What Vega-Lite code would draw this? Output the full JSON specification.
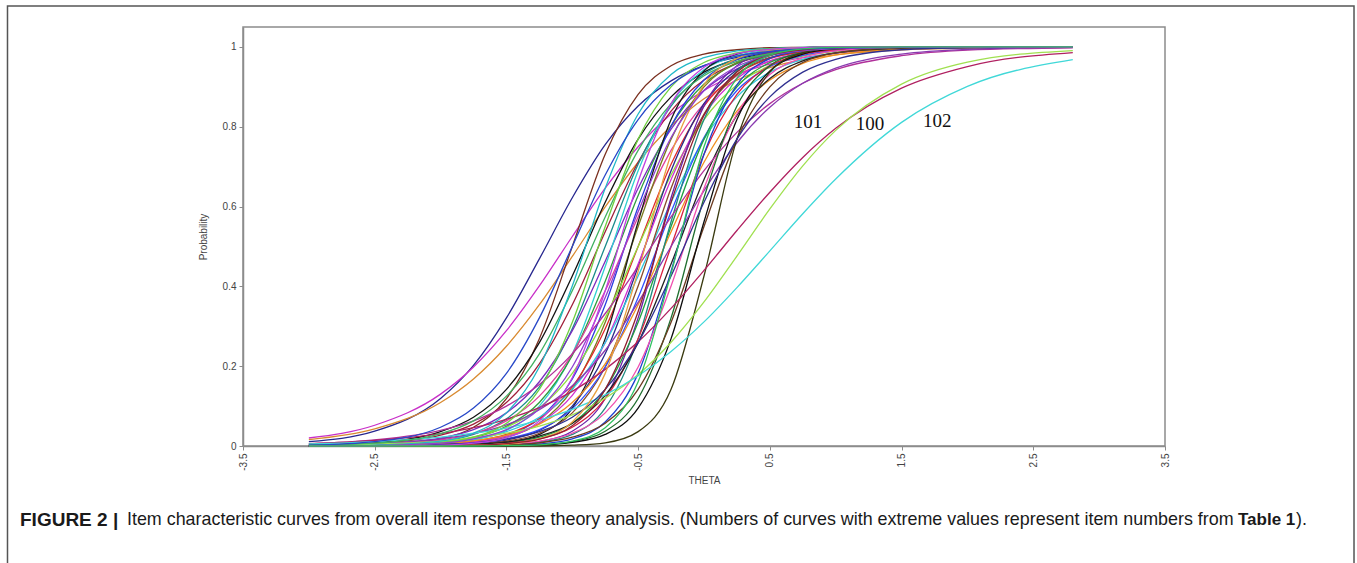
{
"$schema":"https://vega.github.io/schema/vega-lite/v6.json",
"width":922,"height":419,
"autosize":{"type":"none"},
"padding":{"left":243,"top":27,"right":192,"bottom":117},
"background":"white",
"config":{"view":{"stroke":"#8c8c8c","strokeWidth":1.5},"font":"Liberation Sans"},
"layer":[
{"data":{"values":[{}]},"mark":{"type":"rect","fill":null,"stroke":"#555555","strokeWidth":1.5,"clip":false},
 "encoding":{"x":{"datum":-5.288,"type":"quantitative"},"x2":{"datum":4.935},"y":{"datum":1.1026,"type":"quantitative"},"y2":{"datum":-0.32}}},
{"data":{"values":[
{"item":1,"theta":-3,"p":0.011},{"item":1,"theta":-2.5,"p":0.037},{"item":1,"theta":-2,"p":0.119},{"item":1,"theta":-1.75,"p":0.202},{"item":1,"theta":-1.5,"p":0.321},{"item":1,"theta":-1.25,"p":0.469},{"item":1,"theta":-1,"p":0.622},{"item":1,"theta":-0.75,"p":0.755},{"item":1,"theta":-0.5,"p":0.852},{"item":1,"theta":-0.25,"p":0.915},{"item":1,"theta":0,"p":0.953},{"item":1,"theta":0.25,"p":0.974},{"item":1,"theta":0.5,"p":0.986},{"item":1,"theta":0.75,"p":0.992},{"item":1,"theta":1,"p":0.996},{"item":1,"theta":1.5,"p":0.999},{"item":1,"theta":2,"p":1},{"item":1,"theta":2.8,"p":1},
{"item":2,"theta":-3,"p":0.020},{"item":2,"theta":-2.5,"p":0.052},{"item":2,"theta":-2,"p":0.130},{"item":2,"theta":-1.75,"p":0.198},{"item":2,"theta":-1.5,"p":0.289},{"item":2,"theta":-1.25,"p":0.401},{"item":2,"theta":-1,"p":0.525},{"item":2,"theta":-0.75,"p":0.646},{"item":2,"theta":-0.5,"p":0.750},{"item":2,"theta":-0.25,"p":0.832},{"item":2,"theta":0,"p":0.891},{"item":2,"theta":0.25,"p":0.931},{"item":2,"theta":0.5,"p":0.957},{"item":2,"theta":0.75,"p":0.973},{"item":2,"theta":1,"p":0.984},{"item":2,"theta":1.5,"p":0.994},{"item":2,"theta":2,"p":0.998},{"item":2,"theta":2.8,"p":1},
{"item":3,"theta":-3,"p":0.016},{"item":3,"theta":-2.5,"p":0.043},{"item":3,"theta":-2,"p":0.109},{"item":3,"theta":-1.75,"p":0.168},{"item":3,"theta":-1.5,"p":0.250},{"item":3,"theta":-1.25,"p":0.354},{"item":3,"theta":-1,"p":0.475},{"item":3,"theta":-0.75,"p":0.599},{"item":3,"theta":-0.5,"p":0.711},{"item":3,"theta":-0.25,"p":0.802},{"item":3,"theta":0,"p":0.870},{"item":3,"theta":0.25,"p":0.917},{"item":3,"theta":0.5,"p":0.948},{"item":3,"theta":0.75,"p":0.968},{"item":3,"theta":1,"p":0.980},{"item":3,"theta":1.5,"p":0.993},{"item":3,"theta":2,"p":0.997},{"item":3,"theta":2.8,"p":0.999},
{"item":4,"theta":-3,"p":0},{"item":4,"theta":-2.5,"p":0.002},{"item":4,"theta":-2,"p":0.018},{"item":4,"theta":-1.75,"p":0.047},{"item":4,"theta":-1.5,"p":0.119},{"item":4,"theta":-1.25,"p":0.269},{"item":4,"theta":-1,"p":0.5},{"item":4,"theta":-0.75,"p":0.731},{"item":4,"theta":-0.5,"p":0.881},{"item":4,"theta":-0.25,"p":0.953},{"item":4,"theta":0,"p":0.982},{"item":4,"theta":0.25,"p":0.993},{"item":4,"theta":0.5,"p":0.998},{"item":4,"theta":0.75,"p":0.999},{"item":4,"theta":1,"p":1},{"item":4,"theta":1.5,"p":1},{"item":4,"theta":2,"p":1},{"item":4,"theta":2.8,"p":1},
{"item":5,"theta":-3,"p":0.002},{"item":5,"theta":-2.5,"p":0.008},{"item":5,"theta":-2,"p":0.036},{"item":5,"theta":-1.75,"p":0.072},{"item":5,"theta":-1.5,"p":0.142},{"item":5,"theta":-1.25,"p":0.259},{"item":5,"theta":-1,"p":0.426},{"item":5,"theta":-0.75,"p":0.611},{"item":5,"theta":-0.5,"p":0.769},{"item":5,"theta":-0.25,"p":0.875},{"item":5,"theta":0,"p":0.937},{"item":5,"theta":0.25,"p":0.969},{"item":5,"theta":0.5,"p":0.985},{"item":5,"theta":0.75,"p":0.993},{"item":5,"theta":1,"p":0.997},{"item":5,"theta":1.5,"p":0.999},{"item":5,"theta":2,"p":1},{"item":5,"theta":2.8,"p":1},
{"item":6,"theta":-3,"p":0.001},{"item":6,"theta":-2.5,"p":0.006},{"item":6,"theta":-2,"p":0.027},{"item":6,"theta":-1.75,"p":0.055},{"item":6,"theta":-1.5,"p":0.109},{"item":6,"theta":-1.25,"p":0.206},{"item":6,"theta":-1,"p":0.354},{"item":6,"theta":-0.75,"p":0.537},{"item":6,"theta":-0.5,"p":0.711},{"item":6,"theta":-0.25,"p":0.839},{"item":6,"theta":0,"p":0.917},{"item":6,"theta":0.25,"p":0.959},{"item":6,"theta":0.5,"p":0.980},{"item":6,"theta":0.75,"p":0.991},{"item":6,"theta":1,"p":0.995},{"item":6,"theta":1.5,"p":0.999},{"item":6,"theta":2,"p":1},{"item":6,"theta":2.8,"p":1},
{"item":7,"theta":-3,"p":0},{"item":7,"theta":-2.5,"p":0.002},{"item":7,"theta":-2,"p":0.012},{"item":7,"theta":-1.75,"p":0.029},{"item":7,"theta":-1.5,"p":0.068},{"item":7,"theta":-1.25,"p":0.148},{"item":7,"theta":-1,"p":0.294},{"item":7,"theta":-0.75,"p":0.5},{"item":7,"theta":-0.5,"p":0.706},{"item":7,"theta":-0.25,"p":0.852},{"item":7,"theta":0,"p":0.932},{"item":7,"theta":0.25,"p":0.971},{"item":7,"theta":0.5,"p":0.988},{"item":7,"theta":0.75,"p":0.995},{"item":7,"theta":1,"p":0.998},{"item":7,"theta":1.5,"p":1},{"item":7,"theta":2,"p":1},{"item":7,"theta":2.8,"p":1},
{"item":8,"theta":-3,"p":0.001},{"item":8,"theta":-2.5,"p":0.005},{"item":8,"theta":-2,"p":0.020},{"item":8,"theta":-1.75,"p":0.041},{"item":8,"theta":-1.5,"p":0.083},{"item":8,"theta":-1.25,"p":0.161},{"item":8,"theta":-1,"p":0.289},{"item":8,"theta":-0.75,"p":0.463},{"item":8,"theta":-0.5,"p":0.646},{"item":8,"theta":-0.25,"p":0.794},{"item":8,"theta":0,"p":0.891},{"item":8,"theta":0.25,"p":0.945},{"item":8,"theta":0.5,"p":0.973},{"item":8,"theta":0.75,"p":0.987},{"item":8,"theta":1,"p":0.994},{"item":8,"theta":1.5,"p":0.999},{"item":8,"theta":2,"p":1},{"item":8,"theta":2.8,"p":1},
{"item":9,"theta":-3,"p":0},{"item":9,"theta":-2.5,"p":0.001},{"item":9,"theta":-2,"p":0.005},{"item":9,"theta":-1.75,"p":0.015},{"item":9,"theta":-1.5,"p":0.039},{"item":9,"theta":-1.25,"p":0.100},{"item":9,"theta":-1,"p":0.231},{"item":9,"theta":-0.75,"p":0.450},{"item":9,"theta":-0.5,"p":0.690},{"item":9,"theta":-0.25,"p":0.858},{"item":9,"theta":0,"p":0.943},{"item":9,"theta":0.25,"p":0.978},{"item":9,"theta":0.5,"p":0.992},{"item":9,"theta":0.75,"p":0.997},{"item":9,"theta":1,"p":0.999},{"item":9,"theta":1.5,"p":1},{"item":9,"theta":2,"p":1},{"item":9,"theta":2.8,"p":1},
{"item":10,"theta":-3,"p":0},{"item":10,"theta":-2.5,"p":0.002},{"item":10,"theta":-2,"p":0.009},{"item":10,"theta":-1.75,"p":0.021},{"item":10,"theta":-1.5,"p":0.049},{"item":10,"theta":-1.25,"p":0.109},{"item":10,"theta":-1,"p":0.227},{"item":10,"theta":-0.75,"p":0.413},{"item":10,"theta":-0.5,"p":0.628},{"item":10,"theta":-0.25,"p":0.802},{"item":10,"theta":0,"p":0.907},{"item":10,"theta":0.25,"p":0.959},{"item":10,"theta":0.5,"p":0.982},{"item":10,"theta":0.75,"p":0.993},{"item":10,"theta":1,"p":0.997},{"item":10,"theta":1.5,"p":1},{"item":10,"theta":2,"p":1},{"item":10,"theta":2.8,"p":1},
{"item":11,"theta":-3,"p":0},{"item":11,"theta":-2.5,"p":0},{"item":11,"theta":-2,"p":0.004},{"item":11,"theta":-1.75,"p":0.010},{"item":11,"theta":-1.5,"p":0.027},{"item":11,"theta":-1.25,"p":0.069},{"item":11,"theta":-1,"p":0.168},{"item":11,"theta":-0.75,"p":0.354},{"item":11,"theta":-0.5,"p":0.599},{"item":11,"theta":-0.25,"p":0.802},{"item":11,"theta":0,"p":0.917},{"item":11,"theta":0.25,"p":0.968},{"item":11,"theta":0.5,"p":0.988},{"item":11,"theta":0.75,"p":0.995},{"item":11,"theta":1,"p":0.998},{"item":11,"theta":1.5,"p":1},{"item":11,"theta":2,"p":1},{"item":11,"theta":2.8,"p":1},
{"item":12,"theta":-3,"p":0.001},{"item":12,"theta":-2.5,"p":0.003},{"item":12,"theta":-2,"p":0.015},{"item":12,"theta":-1.75,"p":0.031},{"item":12,"theta":-1.5,"p":0.063},{"item":12,"theta":-1.25,"p":0.125},{"item":12,"theta":-1,"p":0.231},{"item":12,"theta":-0.75,"p":0.389},{"item":12,"theta":-0.5,"p":0.574},{"item":12,"theta":-0.25,"p":0.741},{"item":12,"theta":0,"p":0.858},{"item":12,"theta":0.25,"p":0.928},{"item":12,"theta":0.5,"p":0.964},{"item":12,"theta":0.75,"p":0.983},{"item":12,"theta":1,"p":0.992},{"item":12,"theta":1.5,"p":0.998},{"item":12,"theta":2,"p":1},{"item":12,"theta":2.8,"p":1},
{"item":13,"theta":-3,"p":0},{"item":13,"theta":-2.5,"p":0},{"item":13,"theta":-2,"p":0.003},{"item":13,"theta":-1.75,"p":0.008},{"item":13,"theta":-1.5,"p":0.022},{"item":13,"theta":-1.25,"p":0.057},{"item":13,"theta":-1,"p":0.142},{"item":13,"theta":-0.75,"p":0.310},{"item":13,"theta":-0.5,"p":0.550},{"item":13,"theta":-0.25,"p":0.769},{"item":13,"theta":0,"p":0.900},{"item":13,"theta":0.25,"p":0.961},{"item":13,"theta":0.5,"p":0.985},{"item":13,"theta":0.75,"p":0.995},{"item":13,"theta":1,"p":0.998},{"item":13,"theta":1.5,"p":1},{"item":13,"theta":2,"p":1},{"item":13,"theta":2.8,"p":1},
{"item":14,"theta":-3,"p":0},{"item":14,"theta":-2.5,"p":0.001},{"item":14,"theta":-2,"p":0.005},{"item":14,"theta":-1.75,"p":0.012},{"item":14,"theta":-1.5,"p":0.029},{"item":14,"theta":-1.25,"p":0.068},{"item":14,"theta":-1,"p":0.148},{"item":14,"theta":-0.75,"p":0.294},{"item":14,"theta":-0.5,"p":0.5},{"item":14,"theta":-0.25,"p":0.706},{"item":14,"theta":0,"p":0.852},{"item":14,"theta":0.25,"p":0.932},{"item":14,"theta":0.5,"p":0.971},{"item":14,"theta":0.75,"p":0.988},{"item":14,"theta":1,"p":0.995},{"item":14,"theta":1.5,"p":0.999},{"item":14,"theta":2,"p":1},{"item":14,"theta":2.8,"p":1},
{"item":15,"theta":-3,"p":0},{"item":15,"theta":-2.5,"p":0},{"item":15,"theta":-2,"p":0},{"item":15,"theta":-1.75,"p":0.002},{"item":15,"theta":-1.5,"p":0.009},{"item":15,"theta":-1.25,"p":0.029},{"item":15,"theta":-1,"p":0.095},{"item":15,"theta":-0.75,"p":0.269},{"item":15,"theta":-0.5,"p":0.562},{"item":15,"theta":-0.25,"p":0.818},{"item":15,"theta":0,"p":0.940},{"item":15,"theta":0.25,"p":0.982},{"item":15,"theta":0.5,"p":0.995},{"item":15,"theta":0.75,"p":0.998},{"item":15,"theta":1,"p":1},{"item":15,"theta":1.5,"p":1},{"item":15,"theta":2,"p":1},{"item":15,"theta":2.8,"p":1},
{"item":16,"theta":-3,"p":0.001},{"item":16,"theta":-2.5,"p":0.002},{"item":16,"theta":-2,"p":0.011},{"item":16,"theta":-1.75,"p":0.023},{"item":16,"theta":-1.5,"p":0.047},{"item":16,"theta":-1.25,"p":0.095},{"item":16,"theta":-1,"p":0.182},{"item":16,"theta":-0.75,"p":0.321},{"item":16,"theta":-0.5,"p":0.5},{"item":16,"theta":-0.25,"p":0.679},{"item":16,"theta":0,"p":0.818},{"item":16,"theta":0.25,"p":0.905},{"item":16,"theta":0.5,"p":0.953},{"item":16,"theta":0.75,"p":0.977},{"item":16,"theta":1,"p":0.989},{"item":16,"theta":1.5,"p":0.998},{"item":16,"theta":2,"p":0.999},{"item":16,"theta":2.8,"p":1},
{"item":17,"theta":-3,"p":0},{"item":17,"theta":-2.5,"p":0},{"item":17,"theta":-2,"p":0.002},{"item":17,"theta":-1.75,"p":0.005},{"item":17,"theta":-1.5,"p":0.015},{"item":17,"theta":-1.25,"p":0.039},{"item":17,"theta":-1,"p":0.100},{"item":17,"theta":-0.75,"p":0.231},{"item":17,"theta":-0.5,"p":0.450},{"item":17,"theta":-0.25,"p":0.690},{"item":17,"theta":0,"p":0.858},{"item":17,"theta":0.25,"p":0.943},{"item":17,"theta":0.5,"p":0.978},{"item":17,"theta":0.75,"p":0.992},{"item":17,"theta":1,"p":0.997},{"item":17,"theta":1.5,"p":1},{"item":17,"theta":2,"p":1},{"item":17,"theta":2.8,"p":1},
{"item":18,"theta":-3,"p":0},{"item":18,"theta":-2.5,"p":0.001},{"item":18,"theta":-2,"p":0.004},{"item":18,"theta":-1.75,"p":0.010},{"item":18,"theta":-1.5,"p":0.025},{"item":18,"theta":-1.25,"p":0.057},{"item":18,"theta":-1,"p":0.127},{"item":18,"theta":-0.75,"p":0.259},{"item":18,"theta":-0.5,"p":0.456},{"item":18,"theta":-0.25,"p":0.668},{"item":18,"theta":0,"p":0.829},{"item":18,"theta":0.25,"p":0.921},{"item":18,"theta":0.5,"p":0.965},{"item":18,"theta":0.75,"p":0.985},{"item":18,"theta":1,"p":0.994},{"item":18,"theta":1.5,"p":0.999},{"item":18,"theta":2,"p":1},{"item":18,"theta":2.8,"p":1},
{"item":19,"theta":-3,"p":0},{"item":19,"theta":-2.5,"p":0.002},{"item":19,"theta":-2,"p":0.008},{"item":19,"theta":-1.75,"p":0.017},{"item":19,"theta":-1.5,"p":0.036},{"item":19,"theta":-1.25,"p":0.072},{"item":19,"theta":-1,"p":0.142},{"item":19,"theta":-0.75,"p":0.259},{"item":19,"theta":-0.5,"p":0.426},{"item":19,"theta":-0.25,"p":0.611},{"item":19,"theta":0,"p":0.769},{"item":19,"theta":0.25,"p":0.875},{"item":19,"theta":0.5,"p":0.937},{"item":19,"theta":0.75,"p":0.969},{"item":19,"theta":1,"p":0.985},{"item":19,"theta":1.5,"p":0.997},{"item":19,"theta":2,"p":0.999},{"item":19,"theta":2.8,"p":1},
{"item":20,"theta":-3,"p":0},{"item":20,"theta":-2.5,"p":0},{"item":20,"theta":-2,"p":0.002},{"item":20,"theta":-1.75,"p":0.005},{"item":20,"theta":-1.5,"p":0.012},{"item":20,"theta":-1.25,"p":0.032},{"item":20,"theta":-1,"p":0.083},{"item":20,"theta":-0.75,"p":0.198},{"item":20,"theta":-0.5,"p":0.401},{"item":20,"theta":-0.25,"p":0.646},{"item":20,"theta":0,"p":0.832},{"item":20,"theta":0.25,"p":0.931},{"item":20,"theta":0.5,"p":0.973},{"item":20,"theta":0.75,"p":0.990},{"item":20,"theta":1,"p":0.996},{"item":20,"theta":1.5,"p":1},{"item":20,"theta":2,"p":1},{"item":20,"theta":2.8,"p":1},
{"item":21,"theta":-3,"p":0},{"item":21,"theta":-2.5,"p":0.001},{"item":21,"theta":-2,"p":0.003},{"item":21,"theta":-1.75,"p":0.007},{"item":21,"theta":-1.5,"p":0.018},{"item":21,"theta":-1.25,"p":0.041},{"item":21,"theta":-1,"p":0.093},{"item":21,"theta":-0.75,"p":0.198},{"item":21,"theta":-0.5,"p":0.372},{"item":21,"theta":-0.25,"p":0.587},{"item":21,"theta":0,"p":0.773},{"item":21,"theta":0.25,"p":0.891},{"item":21,"theta":0.5,"p":0.951},{"item":21,"theta":0.75,"p":0.979},{"item":21,"theta":1,"p":0.991},{"item":21,"theta":1.5,"p":0.998},{"item":21,"theta":2,"p":1},{"item":21,"theta":2.8,"p":1},
{"item":22,"theta":-3,"p":0},{"item":22,"theta":-2.5,"p":0},{"item":22,"theta":-2,"p":0},{"item":22,"theta":-1.75,"p":0.001},{"item":22,"theta":-1.5,"p":0.003},{"item":22,"theta":-1.25,"p":0.011},{"item":22,"theta":-1,"p":0.037},{"item":22,"theta":-0.75,"p":0.119},{"item":22,"theta":-0.5,"p":0.321},{"item":22,"theta":-0.25,"p":0.622},{"item":22,"theta":0,"p":0.852},{"item":22,"theta":0.25,"p":0.953},{"item":22,"theta":0.5,"p":0.986},{"item":22,"theta":0.75,"p":0.996},{"item":22,"theta":1,"p":0.999},{"item":22,"theta":1.5,"p":1},{"item":22,"theta":2,"p":1},{"item":22,"theta":2.8,"p":1},
{"item":23,"theta":-3,"p":0},{"item":23,"theta":-2.5,"p":0},{"item":23,"theta":-2,"p":0.001},{"item":23,"theta":-1.75,"p":0.003},{"item":23,"theta":-1.5,"p":0.008},{"item":23,"theta":-1.25,"p":0.022},{"item":23,"theta":-1,"p":0.057},{"item":23,"theta":-0.75,"p":0.142},{"item":23,"theta":-0.5,"p":0.310},{"item":23,"theta":-0.25,"p":0.550},{"item":23,"theta":0,"p":0.769},{"item":23,"theta":0.25,"p":0.900},{"item":23,"theta":0.5,"p":0.961},{"item":23,"theta":0.75,"p":0.985},{"item":23,"theta":1,"p":0.995},{"item":23,"theta":1.5,"p":1},{"item":23,"theta":2,"p":1},{"item":23,"theta":2.8,"p":1},
{"item":24,"theta":-3,"p":0},{"item":24,"theta":-2.5,"p":0.001},{"item":24,"theta":-2,"p":0.006},{"item":24,"theta":-1.75,"p":0.013},{"item":24,"theta":-1.5,"p":0.027},{"item":24,"theta":-1.25,"p":0.055},{"item":24,"theta":-1,"p":0.109},{"item":24,"theta":-0.75,"p":0.206},{"item":24,"theta":-0.5,"p":0.354},{"item":24,"theta":-0.25,"p":0.537},{"item":24,"theta":0,"p":0.711},{"item":24,"theta":0.25,"p":0.839},{"item":24,"theta":0.5,"p":0.917},{"item":24,"theta":0.75,"p":0.959},{"item":24,"theta":1,"p":0.980},{"item":24,"theta":1.5,"p":0.995},{"item":24,"theta":2,"p":0.999},{"item":24,"theta":2.8,"p":1},
{"item":25,"theta":-3,"p":0},{"item":25,"theta":-2.5,"p":0},{"item":25,"theta":-2,"p":0},{"item":25,"theta":-1.75,"p":0.001},{"item":25,"theta":-1.5,"p":0.002},{"item":25,"theta":-1.25,"p":0.009},{"item":25,"theta":-1,"p":0.029},{"item":25,"theta":-0.75,"p":0.095},{"item":25,"theta":-0.5,"p":0.269},{"item":25,"theta":-0.25,"p":0.562},{"item":25,"theta":0,"p":0.818},{"item":25,"theta":0.25,"p":0.940},{"item":25,"theta":0.5,"p":0.982},{"item":25,"theta":0.75,"p":0.995},{"item":25,"theta":1,"p":0.998},{"item":25,"theta":1.5,"p":1},{"item":25,"theta":2,"p":1},{"item":25,"theta":2.8,"p":1},
{"item":26,"theta":-3,"p":0},{"item":26,"theta":-2.5,"p":0},{"item":26,"theta":-2,"p":0.001},{"item":26,"theta":-1.75,"p":0.002},{"item":26,"theta":-1.5,"p":0.007},{"item":26,"theta":-1.25,"p":0.018},{"item":26,"theta":-1,"p":0.047},{"item":26,"theta":-0.75,"p":0.119},{"item":26,"theta":-0.5,"p":0.269},{"item":26,"theta":-0.25,"p":0.5},{"item":26,"theta":0,"p":0.731},{"item":26,"theta":0.25,"p":0.881},{"item":26,"theta":0.5,"p":0.953},{"item":26,"theta":0.75,"p":0.982},{"item":26,"theta":1,"p":0.993},{"item":26,"theta":1.5,"p":0.999},{"item":26,"theta":2,"p":1},{"item":26,"theta":2.8,"p":1},
{"item":27,"theta":-3,"p":0},{"item":27,"theta":-2.5,"p":0},{"item":27,"theta":-2,"p":0.002},{"item":27,"theta":-1.75,"p":0.004},{"item":27,"theta":-1.5,"p":0.010},{"item":27,"theta":-1.25,"p":0.025},{"item":27,"theta":-1,"p":0.057},{"item":27,"theta":-0.75,"p":0.127},{"item":27,"theta":-0.5,"p":0.259},{"item":27,"theta":-0.25,"p":0.456},{"item":27,"theta":0,"p":0.668},{"item":27,"theta":0.25,"p":0.829},{"item":27,"theta":0.5,"p":0.921},{"item":27,"theta":0.75,"p":0.965},{"item":27,"theta":1,"p":0.985},{"item":27,"theta":1.5,"p":0.997},{"item":27,"theta":2,"p":1},{"item":27,"theta":2.8,"p":1},
{"item":28,"theta":-3,"p":0.005},{"item":28,"theta":-2.5,"p":0.015},{"item":28,"theta":-2,"p":0.039},{"item":28,"theta":-1.75,"p":0.063},{"item":28,"theta":-1.5,"p":0.100},{"item":28,"theta":-1.25,"p":0.154},{"item":28,"theta":-1,"p":0.231},{"item":28,"theta":-0.75,"p":0.332},{"item":28,"theta":-0.5,"p":0.450},{"item":28,"theta":-0.25,"p":0.574},{"item":28,"theta":0,"p":0.690},{"item":28,"theta":0.25,"p":0.786},{"item":28,"theta":0.5,"p":0.858},{"item":28,"theta":0.75,"p":0.909},{"item":28,"theta":1,"p":0.943},{"item":28,"theta":1.5,"p":0.978},{"item":28,"theta":2,"p":0.992},{"item":28,"theta":2.8,"p":0.998},
{"item":29,"theta":-3,"p":0.002},{"item":29,"theta":-2.5,"p":0.006},{"item":29,"theta":-2,"p":0.018},{"item":29,"theta":-1.75,"p":0.031},{"item":29,"theta":-1.5,"p":0.053},{"item":29,"theta":-1.25,"p":0.091},{"item":29,"theta":-1,"p":0.151},{"item":29,"theta":-0.75,"p":0.240},{"item":29,"theta":-0.5,"p":0.360},{"item":29,"theta":-0.25,"p":0.5},{"item":29,"theta":0,"p":0.640},{"item":29,"theta":0.25,"p":0.760},{"item":29,"theta":0.5,"p":0.849},{"item":29,"theta":0.75,"p":0.909},{"item":29,"theta":1,"p":0.947},{"item":29,"theta":1.5,"p":0.982},{"item":29,"theta":2,"p":0.994},{"item":29,"theta":2.8,"p":0.999},
{"item":30,"theta":-3,"p":0},{"item":30,"theta":-2.5,"p":0},{"item":30,"theta":-2,"p":0},{"item":30,"theta":-1.75,"p":0},{"item":30,"theta":-1.5,"p":0.001},{"item":30,"theta":-1.25,"p":0.005},{"item":30,"theta":-1,"p":0.018},{"item":30,"theta":-0.75,"p":0.060},{"item":30,"theta":-0.5,"p":0.182},{"item":30,"theta":-0.25,"p":0.438},{"item":30,"theta":0,"p":0.731},{"item":30,"theta":0.25,"p":0.905},{"item":30,"theta":0.5,"p":0.971},{"item":30,"theta":0.75,"p":0.991},{"item":30,"theta":1,"p":0.998},{"item":30,"theta":1.5,"p":1},{"item":30,"theta":2,"p":1},{"item":30,"theta":2.8,"p":1},
{"item":31,"theta":-3,"p":0},{"item":31,"theta":-2.5,"p":0},{"item":31,"theta":-2,"p":0.001},{"item":31,"theta":-1.75,"p":0.002},{"item":31,"theta":-1.5,"p":0.005},{"item":31,"theta":-1.25,"p":0.012},{"item":31,"theta":-1,"p":0.032},{"item":31,"theta":-0.75,"p":0.083},{"item":31,"theta":-0.5,"p":0.198},{"item":31,"theta":-0.25,"p":0.401},{"item":31,"theta":0,"p":0.646},{"item":31,"theta":0.25,"p":0.832},{"item":31,"theta":0.5,"p":0.931},{"item":31,"theta":0.75,"p":0.973},{"item":31,"theta":1,"p":0.990},{"item":31,"theta":1.5,"p":0.999},{"item":31,"theta":2,"p":1},{"item":31,"theta":2.8,"p":1},
{"item":32,"theta":-3,"p":0},{"item":32,"theta":-2.5,"p":0},{"item":32,"theta":-2,"p":0},{"item":32,"theta":-1.75,"p":0},{"item":32,"theta":-1.5,"p":0.001},{"item":32,"theta":-1.25,"p":0.003},{"item":32,"theta":-1,"p":0.011},{"item":32,"theta":-0.75,"p":0.037},{"item":32,"theta":-0.5,"p":0.119},{"item":32,"theta":-0.25,"p":0.321},{"item":32,"theta":0,"p":0.622},{"item":32,"theta":0.25,"p":0.852},{"item":32,"theta":0.5,"p":0.953},{"item":32,"theta":0.75,"p":0.986},{"item":32,"theta":1,"p":0.996},{"item":32,"theta":1.5,"p":1},{"item":32,"theta":2,"p":1},{"item":32,"theta":2.8,"p":1},
{"item":33,"theta":-3,"p":0},{"item":33,"theta":-2.5,"p":0},{"item":33,"theta":-2,"p":0},{"item":33,"theta":-1.75,"p":0.001},{"item":33,"theta":-1.5,"p":0.003},{"item":33,"theta":-1.25,"p":0.008},{"item":33,"theta":-1,"p":0.022},{"item":33,"theta":-0.75,"p":0.057},{"item":33,"theta":-0.5,"p":0.142},{"item":33,"theta":-0.25,"p":0.310},{"item":33,"theta":0,"p":0.550},{"item":33,"theta":0.25,"p":0.769},{"item":33,"theta":0.5,"p":0.900},{"item":33,"theta":0.75,"p":0.961},{"item":33,"theta":1,"p":0.985},{"item":33,"theta":1.5,"p":0.998},{"item":33,"theta":2,"p":1},{"item":33,"theta":2.8,"p":1},
{"item":34,"theta":-3,"p":0},{"item":34,"theta":-2.5,"p":0},{"item":34,"theta":-2,"p":0},{"item":34,"theta":-1.75,"p":0},{"item":34,"theta":-1.5,"p":0},{"item":34,"theta":-1.25,"p":0.002},{"item":34,"theta":-1,"p":0.009},{"item":34,"theta":-0.75,"p":0.029},{"item":34,"theta":-0.5,"p":0.095},{"item":34,"theta":-0.25,"p":0.269},{"item":34,"theta":0,"p":0.562},{"item":34,"theta":0.25,"p":0.818},{"item":34,"theta":0.5,"p":0.940},{"item":34,"theta":0.75,"p":0.982},{"item":34,"theta":1,"p":0.995},{"item":34,"theta":1.5,"p":1},{"item":34,"theta":2,"p":1},{"item":34,"theta":2.8,"p":1},
{"item":35,"theta":-3,"p":0},{"item":35,"theta":-2.5,"p":0},{"item":35,"theta":-2,"p":0},{"item":35,"theta":-1.75,"p":0},{"item":35,"theta":-1.5,"p":0},{"item":35,"theta":-1.25,"p":0},{"item":35,"theta":-1,"p":0.002},{"item":35,"theta":-0.75,"p":0.008},{"item":35,"theta":-0.5,"p":0.036},{"item":35,"theta":-0.25,"p":0.142},{"item":35,"theta":0,"p":0.426},{"item":35,"theta":0.25,"p":0.769},{"item":35,"theta":0.5,"p":0.937},{"item":35,"theta":0.75,"p":0.985},{"item":35,"theta":1,"p":0.997},{"item":35,"theta":1.5,"p":1},{"item":35,"theta":2,"p":1},{"item":35,"theta":2.8,"p":1},
{"item":36,"theta":-3,"p":0.006},{"item":36,"theta":-2.5,"p":0.014},{"item":36,"theta":-2,"p":0.031},{"item":36,"theta":-1.75,"p":0.046},{"item":36,"theta":-1.5,"p":0.067},{"item":36,"theta":-1.25,"p":0.096},{"item":36,"theta":-1,"p":0.137},{"item":36,"theta":-0.75,"p":0.192},{"item":36,"theta":-0.5,"p":0.261},{"item":36,"theta":-0.25,"p":0.345},{"item":36,"theta":0,"p":0.440},{"item":36,"theta":0.25,"p":0.540},{"item":36,"theta":0.5,"p":0.636},{"item":36,"theta":0.75,"p":0.723},{"item":36,"theta":1,"p":0.796},{"item":36,"theta":1.5,"p":0.897},{"item":36,"theta":2,"p":0.951},{"item":36,"theta":2.8,"p":0.986},
{"item":37,"theta":-3,"p":0.002},{"item":37,"theta":-2.5,"p":0.005},{"item":37,"theta":-2,"p":0.012},{"item":37,"theta":-1.75,"p":0.020},{"item":37,"theta":-1.5,"p":0.032},{"item":37,"theta":-1.25,"p":0.050},{"item":37,"theta":-1,"p":0.078},{"item":37,"theta":-0.75,"p":0.120},{"item":37,"theta":-0.5,"p":0.179},{"item":37,"theta":-0.25,"p":0.260},{"item":37,"theta":0,"p":0.361},{"item":37,"theta":0.25,"p":0.476},{"item":37,"theta":0.5,"p":0.594},{"item":37,"theta":0.75,"p":0.702},{"item":37,"theta":1,"p":0.791},{"item":37,"theta":1.5,"p":0.907},{"item":37,"theta":2,"p":0.962},{"item":37,"theta":2.8,"p":0.991},
{"item":38,"theta":-3,"p":0.005},{"item":38,"theta":-2.5,"p":0.011},{"item":38,"theta":-2,"p":0.022},{"item":38,"theta":-1.75,"p":0.032},{"item":38,"theta":-1.5,"p":0.045},{"item":38,"theta":-1.25,"p":0.065},{"item":38,"theta":-1,"p":0.092},{"item":38,"theta":-0.75,"p":0.128},{"item":38,"theta":-0.5,"p":0.176},{"item":38,"theta":-0.25,"p":0.237},{"item":38,"theta":0,"p":0.311},{"item":38,"theta":0.25,"p":0.397},{"item":38,"theta":0.5,"p":0.489},{"item":38,"theta":0.75,"p":0.582},{"item":38,"theta":1,"p":0.669},{"item":38,"theta":1.5,"p":0.811},{"item":38,"theta":2,"p":0.901},{"item":38,"theta":2.8,"p":0.968},
{"item":39,"theta":-3,"p":0.002},{"item":39,"theta":-2.5,"p":0.007},{"item":39,"theta":-2,"p":0.031},{"item":39,"theta":-1.75,"p":0.063},{"item":39,"theta":-1.5,"p":0.125},{"item":39,"theta":-1.25,"p":0.231},{"item":39,"theta":-1,"p":0.389},{"item":39,"theta":-0.75,"p":0.574},{"item":39,"theta":-0.5,"p":0.741},{"item":39,"theta":-0.25,"p":0.858},{"item":39,"theta":0,"p":0.928},{"item":39,"theta":0.25,"p":0.964},{"item":39,"theta":0.5,"p":0.983},{"item":39,"theta":0.75,"p":0.992},{"item":39,"theta":1,"p":0.996},{"item":39,"theta":1.5,"p":0.999},{"item":39,"theta":2,"p":1},{"item":39,"theta":2.8,"p":1},
{"item":40,"theta":-3,"p":0},{"item":40,"theta":-2.5,"p":0.001},{"item":40,"theta":-2,"p":0.004},{"item":40,"theta":-1.75,"p":0.008},{"item":40,"theta":-1.5,"p":0.017},{"item":40,"theta":-1.25,"p":0.036},{"item":40,"theta":-1,"p":0.072},{"item":40,"theta":-0.75,"p":0.142},{"item":40,"theta":-0.5,"p":0.259},{"item":40,"theta":-0.25,"p":0.426},{"item":40,"theta":0,"p":0.611},{"item":40,"theta":0.25,"p":0.769},{"item":40,"theta":0.5,"p":0.875},{"item":40,"theta":0.75,"p":0.937},{"item":40,"theta":1,"p":0.969},{"item":40,"theta":1.5,"p":0.993},{"item":40,"theta":2,"p":0.998},{"item":40,"theta":2.8,"p":1},
{"item":41,"theta":-3,"p":0},{"item":41,"theta":-2.5,"p":0.002},{"item":41,"theta":-2,"p":0.012},{"item":41,"theta":-1.75,"p":0.032},{"item":41,"theta":-1.5,"p":0.083},{"item":41,"theta":-1.25,"p":0.198},{"item":41,"theta":-1,"p":0.401},{"item":41,"theta":-0.75,"p":0.646},{"item":41,"theta":-0.5,"p":0.832},{"item":41,"theta":-0.25,"p":0.931},{"item":41,"theta":0,"p":0.973},{"item":41,"theta":0.25,"p":0.990},{"item":41,"theta":0.5,"p":0.996},{"item":41,"theta":0.75,"p":0.999},{"item":41,"theta":1,"p":1},{"item":41,"theta":1.5,"p":1},{"item":41,"theta":2,"p":1},{"item":41,"theta":2.8,"p":1},
{"item":42,"theta":-3,"p":0},{"item":42,"theta":-2.5,"p":0},{"item":42,"theta":-2,"p":0},{"item":42,"theta":-1.75,"p":0.002},{"item":42,"theta":-1.5,"p":0.005},{"item":42,"theta":-1.25,"p":0.018},{"item":42,"theta":-1,"p":0.060},{"item":42,"theta":-0.75,"p":0.182},{"item":42,"theta":-0.5,"p":0.438},{"item":42,"theta":-0.25,"p":0.731},{"item":42,"theta":0,"p":0.905},{"item":42,"theta":0.25,"p":0.971},{"item":42,"theta":0.5,"p":0.991},{"item":42,"theta":0.75,"p":0.998},{"item":42,"theta":1,"p":0.999},{"item":42,"theta":1.5,"p":1},{"item":42,"theta":2,"p":1},{"item":42,"theta":2.8,"p":1},
{"item":43,"theta":-3,"p":0},{"item":43,"theta":-2.5,"p":0.001},{"item":43,"theta":-2,"p":0.008},{"item":43,"theta":-1.75,"p":0.022},{"item":43,"theta":-1.5,"p":0.057},{"item":43,"theta":-1.25,"p":0.142},{"item":43,"theta":-1,"p":0.310},{"item":43,"theta":-0.75,"p":0.550},{"item":43,"theta":-0.5,"p":0.769},{"item":43,"theta":-0.25,"p":0.900},{"item":43,"theta":0,"p":0.961},{"item":43,"theta":0.25,"p":0.985},{"item":43,"theta":0.5,"p":0.995},{"item":43,"theta":0.75,"p":0.998},{"item":43,"theta":1,"p":0.999},{"item":43,"theta":1.5,"p":1},{"item":43,"theta":2,"p":1},{"item":43,"theta":2.8,"p":1},
{"item":44,"theta":-3,"p":0},{"item":44,"theta":-2.5,"p":0.001},{"item":44,"theta":-2,"p":0.007},{"item":44,"theta":-1.75,"p":0.018},{"item":44,"theta":-1.5,"p":0.041},{"item":44,"theta":-1.25,"p":0.093},{"item":44,"theta":-1,"p":0.198},{"item":44,"theta":-0.75,"p":0.372},{"item":44,"theta":-0.5,"p":0.587},{"item":44,"theta":-0.25,"p":0.773},{"item":44,"theta":0,"p":0.891},{"item":44,"theta":0.25,"p":0.951},{"item":44,"theta":0.5,"p":0.979},{"item":44,"theta":0.75,"p":0.991},{"item":44,"theta":1,"p":0.996},{"item":44,"theta":1.5,"p":0.999},{"item":44,"theta":2,"p":1},{"item":44,"theta":2.8,"p":1},
{"item":45,"theta":-3,"p":0},{"item":45,"theta":-2.5,"p":0},{"item":45,"theta":-2,"p":0.001},{"item":45,"theta":-1.75,"p":0.002},{"item":45,"theta":-1.5,"p":0.006},{"item":45,"theta":-1.25,"p":0.017},{"item":45,"theta":-1,"p":0.051},{"item":45,"theta":-0.75,"p":0.142},{"item":45,"theta":-0.5,"p":0.337},{"item":45,"theta":-0.25,"p":0.611},{"item":45,"theta":0,"p":0.829},{"item":45,"theta":0.25,"p":0.937},{"item":45,"theta":0.5,"p":0.979},{"item":45,"theta":0.75,"p":0.993},{"item":45,"theta":1,"p":0.998},{"item":45,"theta":1.5,"p":1},{"item":45,"theta":2,"p":1},{"item":45,"theta":2.8,"p":1},
{"item":46,"theta":-3,"p":0.002},{"item":46,"theta":-2.5,"p":0.011},{"item":46,"theta":-2,"p":0.047},{"item":46,"theta":-1.75,"p":0.095},{"item":46,"theta":-1.5,"p":0.182},{"item":46,"theta":-1.25,"p":0.321},{"item":46,"theta":-1,"p":0.5},{"item":46,"theta":-0.75,"p":0.679},{"item":46,"theta":-0.5,"p":0.818},{"item":46,"theta":-0.25,"p":0.905},{"item":46,"theta":0,"p":0.953},{"item":46,"theta":0.25,"p":0.977},{"item":46,"theta":0.5,"p":0.989},{"item":46,"theta":0.75,"p":0.995},{"item":46,"theta":1,"p":0.998},{"item":46,"theta":1.5,"p":0.999},{"item":46,"theta":2,"p":1},{"item":46,"theta":2.8,"p":1},
{"item":47,"theta":-3,"p":0},{"item":47,"theta":-2.5,"p":0},{"item":47,"theta":-2,"p":0.002},{"item":47,"theta":-1.75,"p":0.007},{"item":47,"theta":-1.5,"p":0.021},{"item":47,"theta":-1.25,"p":0.063},{"item":47,"theta":-1,"p":0.171},{"item":47,"theta":-0.75,"p":0.389},{"item":47,"theta":-0.5,"p":0.663},{"item":47,"theta":-0.25,"p":0.858},{"item":47,"theta":0,"p":0.949},{"item":47,"theta":0.25,"p":0.983},{"item":47,"theta":0.5,"p":0.994},{"item":47,"theta":0.75,"p":0.998},{"item":47,"theta":1,"p":1},{"item":47,"theta":1.5,"p":1},{"item":47,"theta":2,"p":1},{"item":47,"theta":2.8,"p":1},
{"item":48,"theta":-3,"p":0},{"item":48,"theta":-2.5,"p":0},{"item":48,"theta":-2,"p":0},{"item":48,"theta":-1.75,"p":0},{"item":48,"theta":-1.5,"p":0.001},{"item":48,"theta":-1.25,"p":0.003},{"item":48,"theta":-1,"p":0.012},{"item":48,"theta":-0.75,"p":0.046},{"item":48,"theta":-0.5,"p":0.161},{"item":48,"theta":-0.25,"p":0.432},{"item":48,"theta":0,"p":0.750},{"item":48,"theta":0.25,"p":0.922},{"item":48,"theta":0.5,"p":0.979},{"item":48,"theta":0.75,"p":0.995},{"item":48,"theta":1,"p":0.999},{"item":48,"theta":1.5,"p":1},{"item":48,"theta":2,"p":1},{"item":48,"theta":2.8,"p":1}
]},
 "mark":{"type":"line","interpolate":"monotone","strokeWidth":1.3},
 "encoding":{
  "x":{"field":"theta","type":"quantitative","scale":{"domain":[-3.5,3.5],"nice":false,"zero":false},
   "axis":{"values":[-3.5,-2.5,-1.5,-0.5,0.5,1.5,2.5,3.5],"labelExpr":"replace(format(datum.value,'.1f'),'\u2212','-')","labelAngle":270,"labelAlign":"right","labelBaseline":"middle","labelFontSize":10,"labelColor":"#444444","labelPadding":3,"tickSize":4,"tickColor":"#8c8c8c","domainColor":"#8c8c8c","domainWidth":1.5,"grid":false,"title":"THETA","titleFontSize":10,"titleFontWeight":"normal","titleColor":"#444444","titlePadding":5}},
  "y":{"field":"p","type":"quantitative","scale":{"domain":[0,1.05],"nice":false,"zero":false},
   "axis":{"values":[0,0.2,0.4,0.6,0.8,1],"format":".1~f","labelFontSize":10,"labelColor":"#444444","labelPadding":3,"tickSize":4,"tickColor":"#8c8c8c","domainColor":"#8c8c8c","domainWidth":1.5,"grid":false,"title":"Probability","titleFontSize":10,"titleFontWeight":"normal","titleColor":"#444444","titlePadding":14}},
  "color":{"field":"item","type":"nominal","legend":null,"scale":{"domain":[1,2,3,4,5,6,7,8,9,10,11,12,13,14,15,16,17,18,19,20,21,22,23,24,25,26,27,28,29,30,31,32,33,34,35,36,37,38,39,40,41,42,43,44,45,46,47,48],
   "range":["#27278f","#c82fc8","#d98a30","#7a2f1f","#111111","#a0203a","#1b8c8c","#7b2cbf","#2fd0d0","#2e9e3e","#2a3ce0","#e0409c","#7a7a1e","#e02a2a","#1a1a1a","#8fdf3f","#2a2a8a","#d030d0","#30c8e0","#8a4a2a","#3050ff","#6a1fa8","#20a040","#f09020","#208a80","#d82040","#222222","#b0309a","#8a3ab0","#1e40d0","#f050b0","#1f6f2f","#6b3a20","#0d0d0d","#3a3a10","#b02060","#a0e050","#40d8d8","#40b060","#303090","#20b8c8","#e8a040","#70d040","#9040d0","#902030","#2848c8","#c040e0","#30c060"]}}}},
{"data":{"values":[{"label":"101","theta":0.79,"p":0.812},{"label":"100","theta":1.26,"p":0.807},{"label":"102","theta":1.77,"p":0.815}]},
 "mark":{"type":"text","font":"Liberation Serif","fontSize":19,"color":"#111111"},
 "encoding":{"x":{"field":"theta","type":"quantitative"},"y":{"field":"p","type":"quantitative"},"text":{"field":"label"}}},
{"data":{"values":[{}]},"mark":{"type":"text","text":"FIGURE 2 |","align":"left","baseline":"middle","fontSize":19,"fontWeight":"bold","color":"#1a1a1a","clip":false},
 "encoding":{"x":{"datum":-5.193,"type":"quantitative"},"y":{"datum":-0.1854,"type":"quantitative"}}},
{"data":{"values":[{}]},"mark":{"type":"text","text":"Item characteristic curves from overall item response theory analysis. (Numbers of curves with extreme values represent item numbers from","align":"left","baseline":"middle","fontSize":17.9,"color":"#1a1a1a","clip":false},
 "encoding":{"x":{"datum":-4.381,"type":"quantitative"},"y":{"datum":-0.1854,"type":"quantitative"}}},
{"data":{"values":[{}]},"mark":{"type":"text","text":"Table 1","align":"left","baseline":"middle","fontSize":17,"fontWeight":"bold","color":"#1a1a1a","clip":false},
 "encoding":{"x":{"datum":4.054,"type":"quantitative"},"y":{"datum":-0.1854,"type":"quantitative"}}},
{"data":{"values":[{}]},"mark":{"type":"text","text":").","align":"left","baseline":"middle","fontSize":17.9,"color":"#1a1a1a","clip":false},
 "encoding":{"x":{"datum":4.495,"type":"quantitative"},"y":{"datum":-0.1854,"type":"quantitative"}}}
]
}
